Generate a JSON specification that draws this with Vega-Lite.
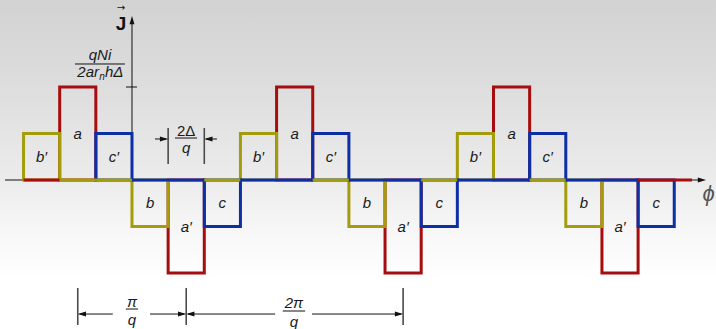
{
  "$schema": "https://vega.github.io/schema/vega-lite/v6.json",
  "width": 716,
  "height": 329,
  "padding": 0,
  "autosize": {"type": "none"},
  "background": "#ffffff",
  "config": {"view": {"stroke": null}},
  "datasets": {
    "pulses": [
      {"u0": -2, "u1": -1, "level": 2, "uc": -1.5, "vc": 1, "phase": "a", "label": "a"},
      {"u0": 4, "u1": 5, "level": 2, "uc": 4.5, "vc": 1, "phase": "a", "label": "a"},
      {"u0": 10, "u1": 11, "level": 2, "uc": 10.5, "vc": 1, "phase": "a", "label": "a"},
      {"u0": 1, "u1": 2, "level": -2, "uc": 1.5, "vc": -1, "phase": "a", "label": "a′"},
      {"u0": 7, "u1": 8, "level": -2, "uc": 7.5, "vc": -1, "phase": "a", "label": "a′"},
      {"u0": 13, "u1": 14, "level": -2, "uc": 13.5, "vc": -1, "phase": "a", "label": "a′"},
      {"u0": -3, "u1": -2, "level": 1, "uc": -2.5, "vc": 0.5, "phase": "b", "label": "b′"},
      {"u0": 3, "u1": 4, "level": 1, "uc": 3.5, "vc": 0.5, "phase": "b", "label": "b′"},
      {"u0": 9, "u1": 10, "level": 1, "uc": 9.5, "vc": 0.5, "phase": "b", "label": "b′"},
      {"u0": 0, "u1": 1, "level": -1, "uc": 0.5, "vc": -0.5, "phase": "b", "label": "b"},
      {"u0": 6, "u1": 7, "level": -1, "uc": 6.5, "vc": -0.5, "phase": "b", "label": "b"},
      {"u0": 12, "u1": 13, "level": -1, "uc": 12.5, "vc": -0.5, "phase": "b", "label": "b"},
      {"u0": -1, "u1": 0, "level": 1, "uc": -0.5, "vc": 0.5, "phase": "c", "label": "c′"},
      {"u0": 5, "u1": 6, "level": 1, "uc": 5.5, "vc": 0.5, "phase": "c", "label": "c′"},
      {"u0": 11, "u1": 12, "level": 1, "uc": 11.5, "vc": 0.5, "phase": "c", "label": "c′"},
      {"u0": 2, "u1": 3, "level": -1, "uc": 2.5, "vc": -0.5, "phase": "c", "label": "c"},
      {"u0": 8, "u1": 9, "level": -1, "uc": 8.5, "vc": -0.5, "phase": "c", "label": "c"},
      {"u0": 14, "u1": 15, "level": -1, "uc": 14.5, "vc": -0.5, "phase": "c", "label": "c"}
    ],
    "baseline": [
      {"u0": -3, "u1": -2, "phase": "a"},
      {"u0": -2, "u1": 0, "phase": "b"},
      {"u0": 0, "u1": 2, "phase": "c"},
      {"u0": 2, "u1": 3, "phase": "b"},
      {"u0": 3, "u1": 5, "phase": "c"},
      {"u0": 5, "u1": 6, "phase": "b"},
      {"u0": 6, "u1": 8, "phase": "c"},
      {"u0": 8, "u1": 9, "phase": "b"},
      {"u0": 9, "u1": 11, "phase": "c"},
      {"u0": 11, "u1": 12, "phase": "b"},
      {"u0": 12, "u1": 14, "phase": "c"},
      {"u0": 14, "u1": 15.49, "phase": "a"}
    ],
    "guides": [
      {"kind": "axis", "u": -3.513, "u2": 15.7, "v": 0, "v2": 0},
      {"kind": "axis", "u": 0, "u2": 0, "v": 0, "v2": 3.4},
      {"kind": "axis", "u": -0.166, "u2": 0.138, "v": 2, "v2": 2},
      {"kind": "axis", "u": -1.577, "u2": -0.194, "v": 2.495, "v2": 2.495},
      {"kind": "axis", "u": 1.19, "u2": 1.8, "v": 0.903, "v2": 0.903},
      {"kind": "axis", "u": -0.17, "u2": 0.17, "v": -2.774, "v2": -2.774},
      {"kind": "axis", "u": 4.17, "u2": 4.79, "v": -2.817, "v2": -2.817},
      {"kind": "axis", "u": 0.636, "u2": 0.95, "v": 0.882, "v2": 0.882},
      {"kind": "axis", "u": 2.05, "u2": 2.35, "v": 0.882, "v2": 0.882},
      {"kind": "axis", "u": -1.45, "u2": -0.53, "v": -2.882, "v2": -2.882},
      {"kind": "axis", "u": 0.5, "u2": 1.45, "v": -2.882, "v2": -2.882},
      {"kind": "axis", "u": 1.55, "u2": 3.96, "v": -2.882, "v2": -2.882},
      {"kind": "axis", "u": 4.98, "u2": 7.45, "v": -2.882, "v2": -2.882},
      {"kind": "extent", "u": 1, "u2": 1, "v": 1.118, "v2": 0.344},
      {"kind": "extent", "u": 2, "u2": 2, "v": 1.118, "v2": 0.344},
      {"kind": "extent", "u": -1.5, "u2": -1.5, "v": -2.323, "v2": -3.118},
      {"kind": "extent", "u": 1.5, "u2": 1.5, "v": -2.323, "v2": -3.118},
      {"kind": "extent", "u": 7.5, "u2": 7.5, "v": -2.323, "v2": -3.118}
    ],
    "heads": [
      {"u": 0, "v": 3.527, "dir": "up"},
      {"u": 15.88, "v": 0, "dir": "right"},
      {"u": 1, "v": 0.882, "dir": "right"},
      {"u": 2, "v": 0.882, "dir": "left"},
      {"u": -1.5, "v": -2.882, "dir": "left"},
      {"u": 1.5, "v": -2.882, "dir": "right"},
      {"u": 1.5, "v": -2.882, "dir": "left"},
      {"u": 7.5, "v": -2.882, "dir": "right"}
    ],
    "notes": [
      {"role": "math", "u": -0.885, "v": 2.69, "text": "qNi"},
      {"role": "mathEnd", "u": -0.913, "v": 2.315, "text": "2ar"},
      {"role": "sub", "u": -0.83, "v": 2.215, "text": "n"},
      {"role": "mathStart", "u": -0.747, "v": 2.315, "text": "hΔ"},
      {"role": "math", "u": 1.5, "v": 0.685, "text": "q"},
      {"role": "math", "u": 0, "v": -2.62, "text": "π"},
      {"role": "math", "u": 0, "v": -3.01, "text": "q"},
      {"role": "math", "u": 4.48, "v": -2.645, "text": "2π"},
      {"role": "math", "u": 4.48, "v": -3.054, "text": "q"},
      {"role": "upright", "u": 1.5, "v": 1.06, "text": "2Δ"},
      {"role": "vector", "u": -0.304, "v": 3.36, "text": "J"},
      {"role": "arrow", "u": -0.304, "v": 3.7, "text": "→"},
      {"role": "variable", "u": 15.78, "v": -0.3, "text": "ϕ"}
    ]
  },
  "encoding": {
    "x": {"type": "quantitative", "scale": {"domain": [-3.651, 16.155], "nice": false, "zero": false}, "axis": null},
    "y": {"type": "quantitative", "scale": {"domain": [-3.204, 3.871], "nice": false, "zero": false}, "axis": null}
  },
  "layer": [
    {
      "data": {"values": [{"left": -3.651, "right": 16.155, "top": 3.871, "bottom": -3.204}]},
      "mark": {
        "type": "rect",
        "fill": {
          "gradient": "linear", "x1": 0, "y1": 0, "x2": 0, "y2": 1,
          "stops": [
            {"offset": 0, "color": "#d2d2d2"},
            {"offset": 0.3, "color": "#dfdfdf"},
            {"offset": 0.55, "color": "#ececec"},
            {"offset": 0.72, "color": "#f8f8f8"},
            {"offset": 0.85, "color": "#ffffff"},
            {"offset": 1, "color": "#ffffff"}
          ]
        }
      },
      "encoding": {
        "x": {"field": "left", "type": "quantitative"},
        "x2": {"field": "right"},
        "y": {"field": "top", "type": "quantitative"},
        "y2": {"field": "bottom"}
      }
    },
    {
      "data": {"name": "guides"},
      "transform": [{"filter": "datum.kind === 'axis'"}],
      "mark": {"type": "rule", "color": "#111111", "strokeWidth": 1},
      "encoding": {
        "x": {"field": "u", "type": "quantitative"},
        "x2": {"field": "u2"},
        "y": {"field": "v", "type": "quantitative"},
        "y2": {"field": "v2"}
      }
    },
    {
      "data": {"name": "guides"},
      "transform": [{"filter": "datum.kind === 'extent'"}],
      "mark": {"type": "rule", "color": "#4a4a4a", "strokeWidth": 1.6},
      "encoding": {
        "x": {"field": "u", "type": "quantitative"},
        "x2": {"field": "u2"},
        "y": {"field": "v", "type": "quantitative"},
        "y2": {"field": "v2"}
      }
    },
    {
      "data": {"name": "heads"},
      "mark": {"type": "point", "filled": true, "color": "#111111", "opacity": 1, "strokeWidth": 0, "size": 30},
      "encoding": {
        "x": {"field": "u", "type": "quantitative"},
        "y": {"field": "v", "type": "quantitative"},
        "shape": {
          "field": "dir", "type": "nominal", "legend": null,
          "scale": {
            "domain": ["right", "left", "up"],
            "range": ["M0,0L-3,-0.9L-3,0.9Z", "M0,0L3,-0.9L3,0.9Z", "M0,0L-0.9,3L0.9,3Z"]
          }
        }
      }
    },
    {
      "data": {"name": "pulses"},
      "mark": {"type": "rect", "fill": null, "fillOpacity": 0, "strokeWidth": 3, "strokeJoin": "miter"},
      "encoding": {
        "x": {"field": "u0", "type": "quantitative"},
        "x2": {"field": "u1"},
        "y": {"field": "level", "type": "quantitative"},
        "y2": {"datum": 0},
        "stroke": {
          "field": "phase", "type": "nominal", "legend": null,
          "scale": {"domain": ["a", "b", "c"], "range": ["#a50d0f", "#a39d0c", "#0d2fa5"]}
        }
      }
    },
    {
      "data": {"name": "baseline"},
      "mark": {"type": "rule", "strokeWidth": 3},
      "encoding": {
        "x": {"field": "u0", "type": "quantitative"},
        "x2": {"field": "u1"},
        "y": {"datum": 0},
        "color": {
          "field": "phase", "type": "nominal", "legend": null,
          "scale": {"domain": ["a", "b", "c"], "range": ["#a50d0f", "#a39d0c", "#0d2fa5"]}
        }
      }
    },
    {
      "data": {"name": "pulses"},
      "mark": {"type": "text", "font": "Liberation Sans", "fontStyle": "italic", "fontSize": 15, "color": "#1a1a1a", "align": "center", "baseline": "middle"},
      "encoding": {
        "x": {"field": "uc", "type": "quantitative"},
        "y": {"field": "vc", "type": "quantitative"},
        "text": {"field": "label"}
      }
    },
    {
      "data": {"name": "notes"},
      "transform": [{"filter": "datum.role === 'math'"}],
      "mark": {"type": "text", "font": "Liberation Sans", "fontStyle": "italic", "fontSize": 15, "color": "#1a1a1a", "align": "center", "baseline": "middle"},
      "encoding": {
        "x": {"field": "u", "type": "quantitative"},
        "y": {"field": "v", "type": "quantitative"},
        "text": {"field": "text"}
      }
    },
    {
      "data": {"name": "notes"},
      "transform": [{"filter": "datum.role === 'mathEnd'"}],
      "mark": {"type": "text", "font": "Liberation Sans", "fontStyle": "italic", "fontSize": 15, "color": "#1a1a1a", "align": "right", "baseline": "middle"},
      "encoding": {
        "x": {"field": "u", "type": "quantitative"},
        "y": {"field": "v", "type": "quantitative"},
        "text": {"field": "text"}
      }
    },
    {
      "data": {"name": "notes"},
      "transform": [{"filter": "datum.role === 'mathStart'"}],
      "mark": {"type": "text", "font": "Liberation Sans", "fontStyle": "italic", "fontSize": 15, "color": "#1a1a1a", "align": "left", "baseline": "middle"},
      "encoding": {
        "x": {"field": "u", "type": "quantitative"},
        "y": {"field": "v", "type": "quantitative"},
        "text": {"field": "text"}
      }
    },
    {
      "data": {"name": "notes"},
      "transform": [{"filter": "datum.role === 'sub'"}],
      "mark": {"type": "text", "font": "Liberation Sans", "fontStyle": "italic", "fontSize": 10, "color": "#1a1a1a", "align": "center", "baseline": "middle"},
      "encoding": {
        "x": {"field": "u", "type": "quantitative"},
        "y": {"field": "v", "type": "quantitative"},
        "text": {"field": "text"}
      }
    },
    {
      "data": {"name": "notes"},
      "transform": [{"filter": "datum.role === 'upright'"}],
      "mark": {"type": "text", "font": "Liberation Sans", "fontSize": 15, "color": "#1a1a1a", "align": "center", "baseline": "middle"},
      "encoding": {
        "x": {"field": "u", "type": "quantitative"},
        "y": {"field": "v", "type": "quantitative"},
        "text": {"field": "text"}
      }
    },
    {
      "data": {"name": "notes"},
      "transform": [{"filter": "datum.role === 'vector'"}],
      "mark": {"type": "text", "font": "Liberation Sans", "fontWeight": "bold", "fontSize": 19, "color": "#111111", "align": "center", "baseline": "middle"},
      "encoding": {
        "x": {"field": "u", "type": "quantitative"},
        "y": {"field": "v", "type": "quantitative"},
        "text": {"field": "text"}
      }
    },
    {
      "data": {"name": "notes"},
      "transform": [{"filter": "datum.role === 'arrow'"}],
      "mark": {"type": "text", "font": "DejaVu Sans", "fontSize": 10, "color": "#111111", "align": "center", "baseline": "middle"},
      "encoding": {
        "x": {"field": "u", "type": "quantitative"},
        "y": {"field": "v", "type": "quantitative"},
        "text": {"field": "text"}
      }
    },
    {
      "data": {"name": "notes"},
      "transform": [{"filter": "datum.role === 'variable'"}],
      "mark": {"type": "text", "font": "Liberation Sans", "fontStyle": "italic", "fontSize": 22, "color": "#555555", "align": "left", "baseline": "middle"},
      "encoding": {
        "x": {"field": "u", "type": "quantitative"},
        "y": {"field": "v", "type": "quantitative"},
        "text": {"field": "text"}
      }
    }
  ]
}
